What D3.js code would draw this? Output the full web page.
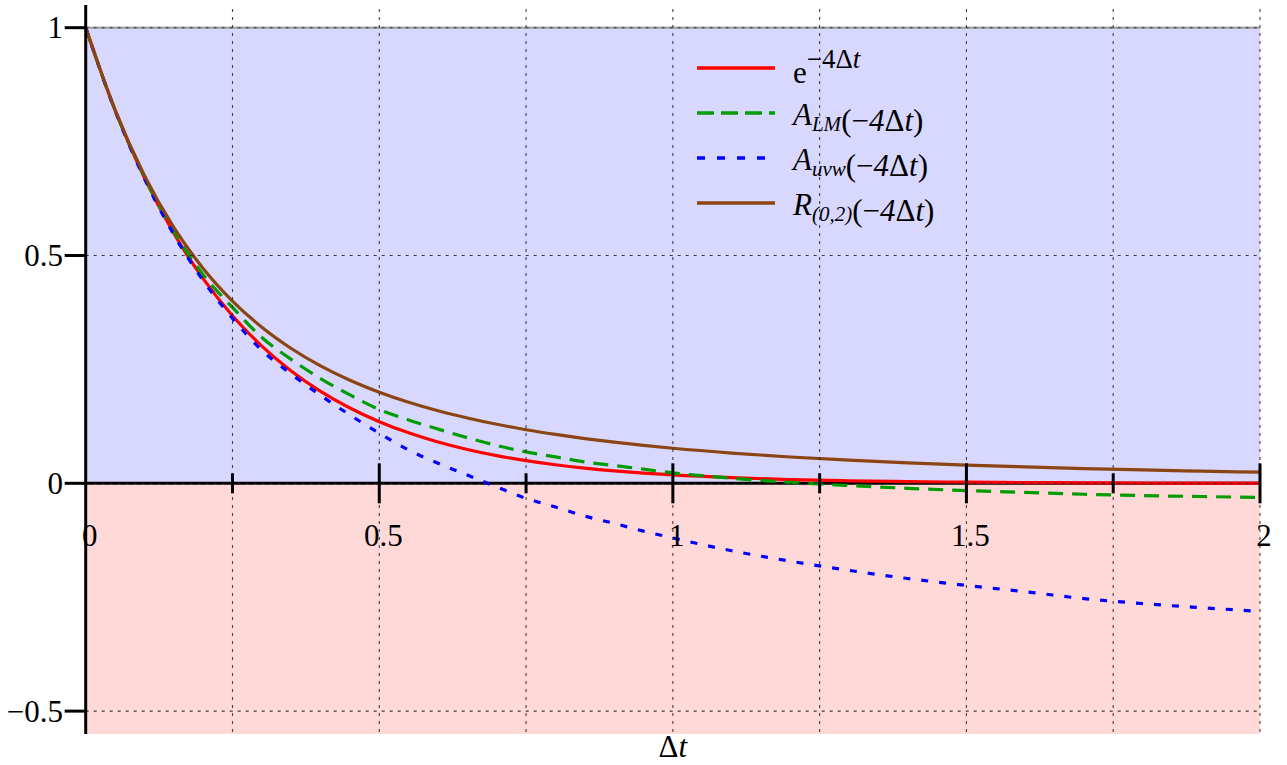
<!DOCTYPE html>
<html>
<head>
<meta charset="utf-8">
<script src="https://cdn.jsdelivr.net/npm/d3@7"></script>
<style>
  html, body { margin: 0; padding: 0; background: #ffffff; }
  svg { display: block; }
  text { font-family: "Liberation Serif", "Times New Roman", serif; }
</style>
</head>
<body>
<svg id="chart" width="1287" height="765"></svg>
<script>
// Step values Δt shared by every curve
const dt = [0, 0.05, 0.1, 0.15, 0.2, 0.25, 0.3, 0.35, 0.4, 0.45, 0.5, 0.55, 0.6, 0.65, 0.7, 0.75,
            0.8, 0.85, 0.9, 0.95, 1.0, 1.1, 1.2, 1.3, 1.4, 1.5, 1.6, 1.7, 1.8, 1.9, 2.0];

// Exact amplification e^{-4Δt}
const expVals = [1, 0.8187, 0.6703, 0.5488, 0.4493, 0.3679, 0.3012, 0.2466, 0.2019, 0.1653, 0.1353,
                 0.1108, 0.0907, 0.0743, 0.0608, 0.0498, 0.0408, 0.0334, 0.0273, 0.0224, 0.0183,
                 0.0123, 0.0082, 0.0055, 0.0037, 0.0025, 0.0017, 0.0011, 0.0007, 0.0005, 0.0003];

// A_LM(-4Δt)
const lmVals = [1, 0.819, 0.672, 0.553, 0.458, 0.386, 0.320, 0.272, 0.230, 0.194, 0.162,
                0.139, 0.119, 0.100, 0.083, 0.069, 0.058, 0.047, 0.039, 0.031, 0.023,
                0.011, 0.002, -0.005, -0.011, -0.016, -0.020, -0.024, -0.027, -0.029, -0.031];

// A_uvw(-4Δt)
const uvwVals = [1, 0.818, 0.669, 0.546, 0.445, 0.362, 0.292, 0.240, 0.193, 0.150, 0.110,
                 0.073, 0.044, 0.018, -0.008, -0.033, -0.052, -0.072, -0.088, -0.105, -0.120,
                 -0.148, -0.171, -0.191, -0.209, -0.224, -0.238, -0.253, -0.264, -0.273, -0.281];

// R_(0,2)(-4Δt)
const r02Vals = [1, 0.8197, 0.6757, 0.5618, 0.4717, 0.4000, 0.3425, 0.2959, 0.2577, 0.2262, 0.2000,
                 0.1779, 0.1592, 0.1433, 0.1295, 0.1176, 0.1073, 0.0982, 0.0903, 0.0832, 0.0769,
                 0.0663, 0.0577, 0.0507, 0.0449, 0.0400, 0.0359, 0.0323, 0.0293, 0.0267, 0.0244];

const xTicksMajor = [0.5, 1, 1.5, 2];
const xTicksMinor = [0.25, 0.75, 1.25, 1.75];
const xTickLabels = ["0", "0.5", "1", "1.5", "2"];
const xLabelVals = [0, 0.5, 1, 1.5, 2];
const yTicks = [-0.5, 0, 0.5, 1];
const yTickLabels = ["\u22120.5", "0", "0.5", "1"];
const xGrid = [0.25, 0.5, 0.75, 1, 1.25, 1.5, 1.75, 2];
const yGrid = [-0.5, 0, 0.5, 1];

const series = [
  { key: "exp", values: expVals, color: "#ff0000", dash: null },
  { key: "lm",  values: lmVals,  color: "#009c00", dash: "15,9" },
  { key: "uvw", values: uvwVals, color: "#0000ff", dash: "7,11" },
  { key: "r02", values: r02Vals, color: "#8b4513", dash: null }
];

const svg = d3.select("#chart");
const x = d3.scaleLinear().domain([0, 2]).range([85.7, 1260]);
const y = d3.scaleLinear().domain([-0.55, 1.05]).range([733.9, 4.9]);

const x0 = x(0), x1 = x(2), yTop = y(1.05), yBot = y(-0.55);

// Shaded half-planes: above and below zero
svg.append("rect").attr("x", x0).attr("y", y(1)).attr("width", x1 - x0).attr("height", y(0) - y(1))
  .attr("fill", "#d8d8ff");
svg.append("rect").attr("x", x0).attr("y", y(0)).attr("width", x1 - x0).attr("height", yBot - y(0))
  .attr("fill", "#ffd8d8");

// Reference line at 1
svg.append("line").attr("x1", x0).attr("x2", x1).attr("y1", y(1)).attr("y2", y(1))
  .attr("stroke", "#a8a8a8").attr("stroke-width", 2.5);

// Horizontal axis line
svg.append("line").attr("x1", x0).attr("x2", x1).attr("y1", y(0)).attr("y2", y(0))
  .attr("stroke", "#000").attr("stroke-width", 3);

// Curves
svg.append("clipPath").attr("id", "plotclip").append("rect")
  .attr("x", x0).attr("y", yTop).attr("width", x1 - x0 + 2).attr("height", yBot - yTop);

const line = d3.line().curve(d3.curveMonotoneX);
const curves = svg.append("g").attr("clip-path", "url(#plotclip)");
series.forEach(s => {
  curves.append("path")
    .attr("d", line(dt.map((d, i) => [x(d), y(s.values[i])])))
    .attr("fill", "none")
    .attr("stroke", s.color)
    .attr("stroke-width", 3.2)
    .attr("stroke-dasharray", s.dash);
});

// Grid lines
const grid = svg.append("g").attr("stroke", "#222").attr("stroke-width", 1.1)
  .attr("stroke-dasharray", "3,5").attr("opacity", 0.85);
xGrid.forEach(v => grid.append("line").attr("x1", x(v)).attr("x2", x(v)).attr("y1", yTop + 4).attr("y2", yBot));
yGrid.forEach(v => grid.append("line").attr("x1", x0).attr("x2", x1).attr("y1", y(v)).attr("y2", y(v)));

// Vertical axis
svg.append("line").attr("x1", x0).attr("x2", x0).attr("y1", yTop).attr("y2", yBot)
  .attr("stroke", "#000").attr("stroke-width", 3);

// x ticks crossing the horizontal axis
xTicksMajor.forEach(v => svg.append("line").attr("x1", x(v)).attr("x2", x(v))
  .attr("y1", y(0) - 20).attr("y2", y(0) + 20).attr("stroke", "#000").attr("stroke-width", 3));
xTicksMinor.forEach(v => svg.append("line").attr("x1", x(v)).attr("x2", x(v))
  .attr("y1", y(0) - 10).attr("y2", y(0) + 10).attr("stroke", "#000").attr("stroke-width", 3));

// y ticks, outward
yTicks.forEach(v => svg.append("line").attr("x1", x0 - 21).attr("x2", x0)
  .attr("y1", y(v)).attr("y2", y(v)).attr("stroke", "#000").attr("stroke-width", 3));

// Tick labels
xLabelVals.forEach((v, i) => svg.append("text")
  .attr("x", x(v) + 4).attr("y", 546).attr("text-anchor", "middle")
  .attr("font-size", 31).text(xTickLabels[i]));
yTicks.forEach((v, i) => svg.append("text")
  .attr("x", 63).attr("y", y(v) + 10.5).attr("text-anchor", "end")
  .attr("font-size", 31).text(yTickLabels[i]));

// Axis label Δt
const xl = svg.append("text").attr("x", x(1)).attr("y", 757).attr("text-anchor", "middle").attr("font-size", 31);
xl.append("tspan").text("\u0394");
xl.append("tspan").attr("font-style", "italic").text("t");

// Legend
const legendRows = [
  { color: "#ff0000", dash: null, y: 68 },
  { color: "#009c00", dash: "17,7", y: 113 },
  { color: "#0000ff", dash: "8,12", y: 158 },
  { color: "#8b4513", dash: null, y: 203 }
];
legendRows.forEach(r => svg.append("line").attr("x1", 697).attr("x2", 775).attr("y1", r.y).attr("y2", r.y)
  .attr("stroke", r.color).attr("stroke-width", 3.5).attr("stroke-dasharray", r.dash));

function argTail(t) {
  t.append("tspan").text("(\u2212");
  t.append("tspan").attr("font-style", "italic").text("4");
  t.append("tspan").text("\u0394");
  t.append("tspan").attr("font-style", "italic").text("t");
  t.append("tspan").text(")");
}

// e^{-4Δt}
const t1 = svg.append("text").attr("x", 793).attr("y", 83).attr("font-size", 31);
t1.append("tspan").text("e");
t1.append("tspan").attr("dy", -15).attr("font-size", 27).text("\u22124\u0394");
t1.append("tspan").attr("font-size", 27).attr("font-style", "italic").text("t");

const subRows = [
  { main: "A", sub: "LM", y: 125 },
  { main: "A", sub: "uvw", y: 170 },
  { main: "R", sub: "(0,2)", y: 215 }
];
subRows.forEach(r => {
  const t = svg.append("text").attr("x", 793).attr("y", r.y).attr("font-size", 31);
  t.append("tspan").attr("font-style", "italic").text(r.main);
  t.append("tspan").attr("font-style", "italic").attr("font-size", 21).attr("dy", 6).text(r.sub);
  t.append("tspan").attr("dy", -6).text("");
  argTail(t);
});
</script>
</body>
</html>
